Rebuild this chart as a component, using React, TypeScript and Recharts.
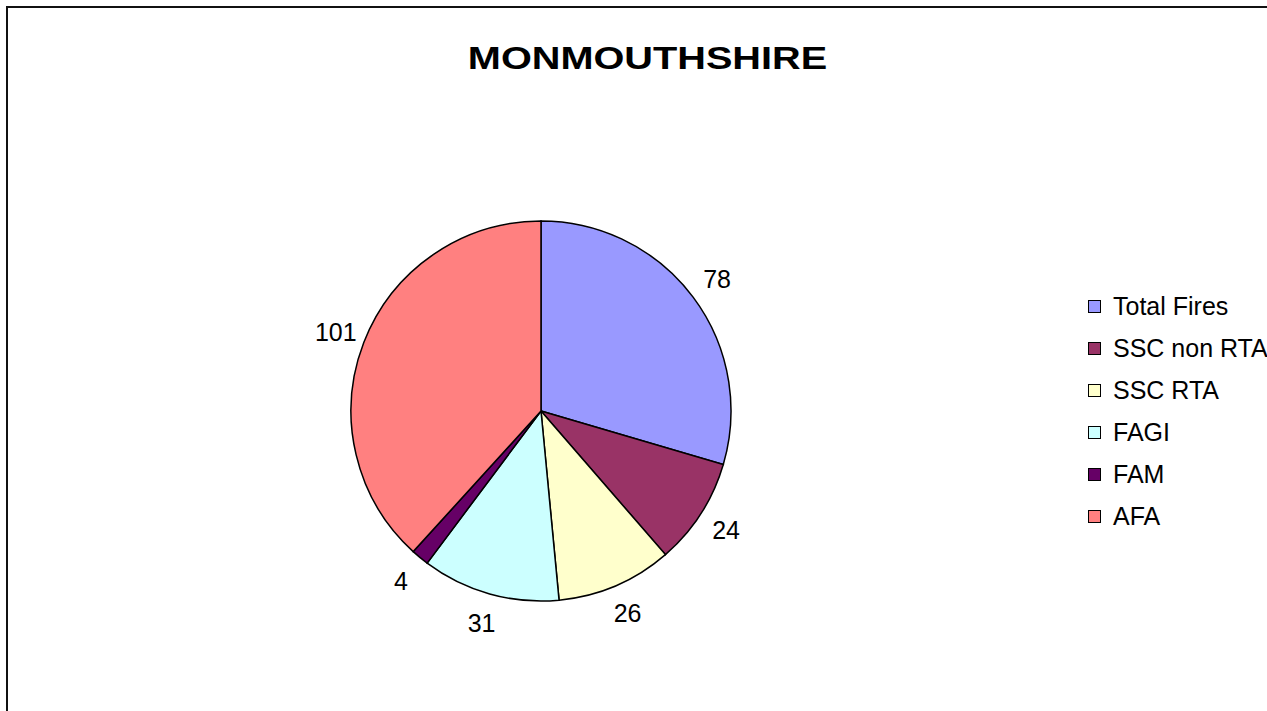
import React from 'react';
import { PieChart, Pie, Cell, Legend } from 'recharts';

const categories = ['Total Fires', 'SSC non RTA', 'SSC RTA', 'FAGI', 'FAM', 'AFA'];
const counts = [78, 24, 26, 31, 4, 101];
const colours = ['#9999FF', '#993366', '#FFFFCC', '#CCFFFF', '#660066', '#FF8080'];

const data = categories.map((name, i) => ({ name, value: counts[i] }));

const FONT = '"Liberation Sans", Arial, Helvetica, sans-serif';
const RAD = Math.PI / 180;

const renderLabel = (props: any) => {
  const { cx, cy, midAngle, outerRadius, value } = props;
  const r = outerRadius + 30;
  const x = cx + r * Math.cos(-midAngle * RAD);
  const y = cy + r * Math.sin(-midAngle * RAD);
  return (
    <text
      x={x}
      y={y}
      fill="#000"
      textAnchor="middle"
      dominantBaseline="central"
      style={{ fontFamily: FONT, fontSize: 25 }}
    >
      {value}
    </text>
  );
};

const renderLegend = () => (
  <div style={{ fontFamily: FONT, fontSize: 25, color: '#000', whiteSpace: 'nowrap' }}>
    {categories.map((name, i) => (
      <div key={name} style={{ height: 42, display: 'flex', alignItems: 'center' }}>
        <span
          style={{
            display: 'inline-block',
            width: 11,
            height: 11,
            background: colours[i],
            border: '1px solid #000',
            marginRight: 12,
          }}
        />
        <span>{name}</span>
      </div>
    ))}
  </div>
);

export default function App() {
  return (
    <div
      style={{
        position: 'fixed',
        left: 0,
        top: 0,
        width: 1267,
        height: 711,
        overflow: 'hidden',
        background: '#fff',
      }}
    >
      <div
        style={{
          position: 'absolute',
          left: 6,
          top: 6,
          width: 1400,
          height: 900,
          borderLeft: '2px solid #111',
          borderTop: '2px solid #111',
        }}
      />
      <div
        style={{
          position: 'absolute',
          left: 0,
          width: 1295,
          top: 40,
          textAlign: 'center',
          fontFamily: FONT,
          fontWeight: 'bold',
          fontSize: 32,
          lineHeight: '36px',
          color: '#000',
          transform: 'scaleX(1.24)',
          transformOrigin: '647.5px 0',
        }}
      >
        MONMOUTHSHIRE
      </div>
      <div style={{ position: 'absolute', left: 0, top: 0 }}>
        <PieChart width={1267} height={711} margin={{ top: 0, right: 0, bottom: 0, left: 0 }}>
          <Pie
            data={data}
            dataKey="value"
            nameKey="name"
            cx={541}
            cy={411}
            outerRadius={190}
            startAngle={90}
            endAngle={-270}
            stroke="#000"
            strokeWidth={1.5}
            label={renderLabel}
            labelLine={false}
            isAnimationActive={false}
          >
            {data.map((d, i) => (
              <Cell key={d.name} fill={colours[i]} />
            ))}
          </Pie>
          <Legend
            content={renderLegend}
            wrapperStyle={{ position: 'absolute', left: 1088, top: 285, width: 300 }}
          />
        </PieChart>
      </div>
    </div>
  );
}
